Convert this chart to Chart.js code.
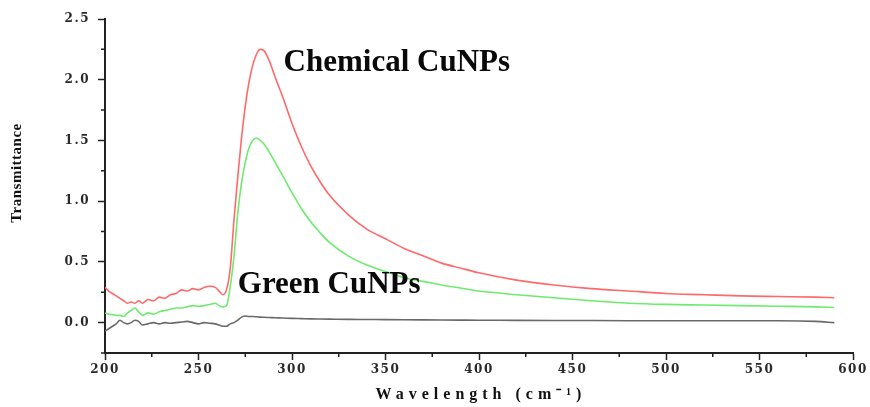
<!DOCTYPE html>
<html>
<head>
<meta charset="utf-8">
<script src="https://cdn.jsdelivr.net/npm/chart.js@4/dist/chart.umd.min.js"></script>
<style>
  html, body { margin: 0; padding: 0; background: #fff; }
  #wrap { width: 870px; height: 407px; }
</style>
</head>
<body>
<div id="wrap"><canvas id="uvChart"></canvas></div>
<script>
// wavelengths (shared by all three traces)
const wavelength = [200,202,204,206,208,210,212,214,216,218,220,223,226,229,232,235,238,241,244,247,250,253,256,259,261,263,265,267,269,271,273,275,277,279,281,283,285,288,291,295,300,305,310,315,320,330,340,350,360,370,380,390,400,420,440,460,480,500,520,540,560,580,590];

// Chemical CuNPs (red)
const chemical = [0.29,0.26,0.24,0.22,0.20,0.18,0.16,0.17,0.16,0.18,0.16,0.19,0.18,0.21,0.20,0.23,0.24,0.27,0.26,0.28,0.27,0.29,0.30,0.29,0.26,0.23,0.27,0.45,0.85,1.20,1.52,1.78,1.98,2.12,2.21,2.25,2.24,2.15,2.02,1.86,1.64,1.45,1.29,1.16,1.05,0.89,0.77,0.69,0.61,0.55,0.49,0.45,0.41,0.35,0.31,0.28,0.26,0.24,0.23,0.22,0.215,0.21,0.205];

// Green CuNPs (green)
const green = [0.08,0.07,0.065,0.06,0.06,0.05,0.08,0.10,0.12,0.09,0.06,0.08,0.07,0.09,0.10,0.11,0.12,0.12,0.13,0.14,0.135,0.14,0.15,0.16,0.14,0.13,0.14,0.30,0.55,0.90,1.15,1.32,1.44,1.50,1.52,1.50,1.47,1.40,1.32,1.21,1.07,0.94,0.83,0.74,0.66,0.55,0.475,0.42,0.37,0.34,0.31,0.285,0.26,0.23,0.205,0.18,0.16,0.15,0.145,0.14,0.135,0.13,0.125];

// baseline (grey)
const blank = [-0.07,-0.05,-0.03,-0.01,0.02,0.0,-0.01,0.0,0.02,0.01,-0.02,-0.01,0.0,-0.01,0.0,-0.005,0.0,0.005,0.01,0.0,-0.01,0.0,-0.005,-0.01,-0.02,-0.03,-0.03,-0.01,0.0,0.02,0.045,0.055,0.05,0.05,0.048,0.045,0.044,0.042,0.04,0.038,0.035,0.033,0.031,0.03,0.029,0.027,0.026,0.025,0.024,0.023,0.022,0.021,0.02,0.019,0.018,0.017,0.016,0.015,0.015,0.015,0.015,0.01,0.0];

const xTicks = [200,250,300,350,400,450,500,550,600];
const yTicks = [0,0.5,1,1.5,2,2.5];
const xMinor = [225,275,325,375,425,475,525,575];
const yMinor = [-0.25,0.25,0.75,1.25,1.75,2.25];

const labels = [
  { text: 'Chemical CuNPs', x: 295.5, y: 2.07 },
  { text: 'Green CuNPs', x: 271, y: 0.245 }
];

const toPts = (ys) => wavelength.map((w, i) => ({ x: w, y: ys[i] }));

const tickFont = { family: "'DejaVu Serif', serif", size: 12, weight: 'bold' };

const decorPlugin = {
  id: 'decor',
  beforeDraw(chart) {
    chart.ctx.letterSpacing = '1.5px';
  },
  beforeDatasetsDraw(chart) {
    chart.ctx.letterSpacing = '0px';
  },
  afterDraw(chart) {
    const ctx = chart.ctx;
    const xs = chart.scales.x, ys = chart.scales.y;
    const area = chart.chartArea;
    ctx.save();
    // minor ticks
    ctx.strokeStyle = '#222';
    ctx.lineWidth = 1.5;
    ctx.beginPath();
    xMinor.forEach(v => {
      const p = xs.getPixelForValue(v);
      ctx.moveTo(p, area.bottom);
      ctx.lineTo(p, area.bottom + 4);
    });
    yMinor.forEach(v => {
      const p = ys.getPixelForValue(v);
      ctx.moveTo(area.left, p);
      ctx.lineTo(area.left - 4, p);
    });
    ctx.stroke();

    // axis titles
    ctx.fillStyle = '#111';
    ctx.textAlign = 'center';
    ctx.textBaseline = 'middle';
    ctx.letterSpacing = '5px';
    ctx.font = "bold 16px 'Liberation Serif', serif";
    ctx.fillText('Wavelength (cm\u207B\u00B9)', (area.left + area.right) / 2 + 2, 395);
    ctx.translate(17, 173);
    ctx.rotate(-Math.PI / 2);
    ctx.letterSpacing = '0.5px';
    ctx.font = "bold 15px 'Liberation Serif', serif";
    ctx.fillText('Transmittance', 0, 0);
    ctx.restore();

    // curve labels
    ctx.save();
    ctx.letterSpacing = '0px';
    ctx.fillStyle = '#0a0a0a';
    ctx.textAlign = 'left';
    ctx.textBaseline = 'alphabetic';
    ctx.font = "bold 31px 'Liberation Serif', serif";
    labels.forEach(l => {
      ctx.fillText(l.text, xs.getPixelForValue(l.x), ys.getPixelForValue(l.y));
    });
    ctx.restore();
  }
};

new Chart(document.getElementById('uvChart'), {
  type: 'line',
  data: {
    datasets: [
      { label: 'Chemical CuNPs', data: toPts(chemical), borderColor: 'rgb(255, 105, 105)', borderWidth: 1.6 },
      { label: 'Green CuNPs', data: toPts(green), borderColor: 'rgb(110, 235, 110)', borderWidth: 1.6 },
      { label: 'Blank', data: toPts(blank), borderColor: 'rgb(105, 105, 105)', borderWidth: 1.6 }
    ]
  },
  options: {
    responsive: true,
    maintainAspectRatio: false,
    devicePixelRatio: 1,
    animation: false,
    layout: { padding: { top: 19, right: 17, bottom: 0, left: 0 } },
    elements: { point: { radius: 0 }, line: { cubicInterpolationMode: 'monotone' } },
    plugins: { legend: { display: false }, tooltip: { enabled: false } },
    scales: {
      x: {
        type: 'linear',
        min: 200,
        max: 600,
        afterBuildTicks: (s) => { s.ticks = xTicks.map(v => ({ value: v })); },
        afterFit: (s) => { s.height = 54; },
        border: { display: true, color: '#222', width: 2 },
        grid: { drawOnChartArea: false, tickLength: 7, tickColor: '#222', tickWidth: 1.5 },
        ticks: { color: '#2a2a2a', font: tickFont, padding: 3, maxRotation: 0 }
      },
      y: {
        min: -0.25,
        max: 2.5,
        afterBuildTicks: (s) => { s.ticks = yTicks.map(v => ({ value: v })); },
        afterFit: (s) => { s.width = 105; },
        border: { display: true, color: '#222', width: 2 },
        grid: { drawOnChartArea: false, tickLength: 7, tickColor: '#222', tickWidth: 1.5 },
        ticks: { color: '#2a2a2a', font: tickFont, padding: 8, callback: (v) => Number(v).toFixed(1) }
      }
    }
  },
  plugins: [decorPlugin]
});
</script>
</body>
</html>
